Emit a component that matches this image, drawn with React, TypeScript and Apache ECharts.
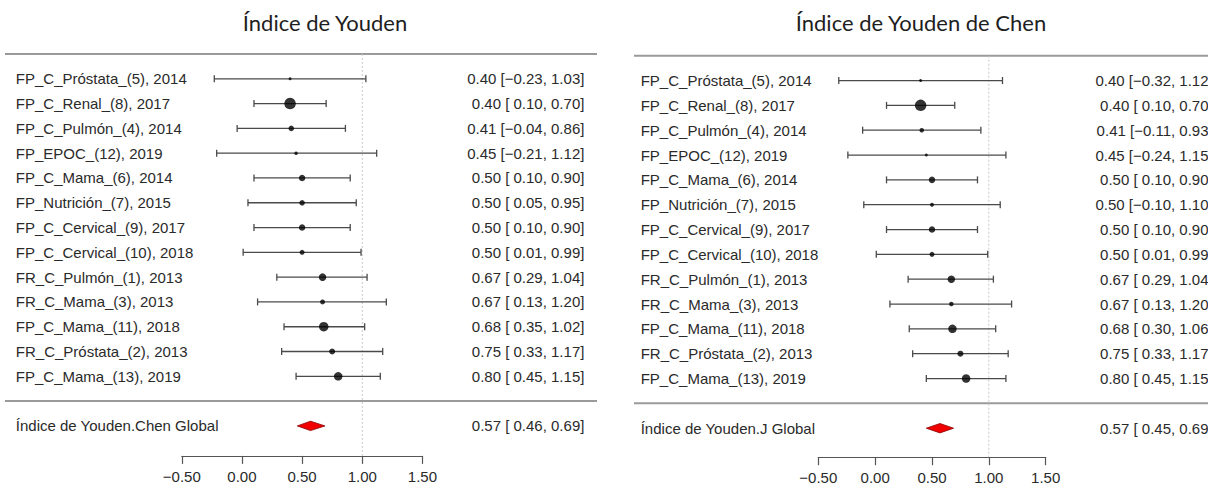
import React, { useEffect, useRef } from "react";
import * as echarts from "echarts";

// Study labels (same order in both panels, top to bottom)
const studies = [
  "FP_C_Próstata_(5), 2014",
  "FP_C_Renal_(8), 2017",
  "FP_C_Pulmón_(4), 2014",
  "FP_EPOC_(12), 2019",
  "FP_C_Mama_(6), 2014",
  "FP_Nutrición_(7), 2015",
  "FP_C_Cervical_(9), 2017",
  "FP_C_Cervical_(10), 2018",
  "FR_C_Pulmón_(1), 2013",
  "FR_C_Mama_(3), 2013",
  "FP_C_Mama_(11), 2018",
  "FR_C_Próstata_(2), 2013",
  "FP_C_Mama_(13), 2019",
];

// Índice de Youden
const youdenEst = [0.40, 0.40, 0.41, 0.45, 0.50, 0.50, 0.50, 0.50, 0.67, 0.67, 0.68, 0.75, 0.80];
const youdenLow = [-0.23, 0.10, -0.04, -0.21, 0.10, 0.05, 0.10, 0.01, 0.29, 0.13, 0.35, 0.33, 0.45];
const youdenHigh = [1.03, 0.70, 0.86, 1.12, 0.90, 0.95, 0.90, 0.99, 1.04, 1.20, 1.02, 1.17, 1.15];
const youdenWeight = [3, 11.5, 5.5, 3.5, 6.5, 5.5, 6.5, 5, 7.5, 5, 9.5, 6, 8.5];
const youdenPooled = [0.57, 0.46, 0.69];

// Índice de Youden de Chen
const chenEst = [0.40, 0.40, 0.41, 0.45, 0.50, 0.50, 0.50, 0.50, 0.67, 0.67, 0.68, 0.75, 0.80];
const chenLow = [-0.32, 0.10, -0.11, -0.24, 0.10, -0.10, 0.10, 0.01, 0.29, 0.13, 0.30, 0.33, 0.45];
const chenHigh = [1.12, 0.70, 0.93, 1.15, 0.90, 1.10, 0.90, 0.99, 1.04, 1.20, 1.06, 1.17, 1.15];
const chenWeight = [3, 11.5, 4.5, 3, 6.5, 4, 6.5, 5, 7.5, 4.5, 8.5, 6, 8.5];
const chenPooled = [0.57, 0.45, 0.69];

const xTicks = [-0.5, 0, 0.5, 1, 1.5];
const refValue = 1;

const LABEL_FONT = "'Liberation Sans', Arial, sans-serif";
const TITLE_FONT = "Lato, 'Open Sans', sans-serif";

const fmtSigned = (v: number) => (v < 0 ? `\u2212${Math.abs(v).toFixed(2)}` : ` ${v.toFixed(2)}`);
const ciText = (e: number, l: number, h: number) => `${e.toFixed(2)} [${fmtSigned(l)}, ${h.toFixed(2)}]`;

type Panel = {
  title: string;
  titleX: number;
  pooledLabel: string;
  est: number[];
  low: number[];
  high: number[];
  weight: number[];
  pooled: number[];
  grid: { left: number; top: number; width: number; height: number };
  axisOffset: number;
  labelMargin: number;
  ciMargin: number;
  ruleFrom: number;
  ruleTo: number;
};

const panels: Panel[] = [
  {
    title: "Índice de Youden",
    titleX: 325,
    pooledLabel: "Índice de Youden.Chen Global",
    est: youdenEst,
    low: youdenLow,
    high: youdenHigh,
    weight: youdenWeight,
    pooled: youdenPooled,
    grid: { left: 181.8, top: 54, width: 240.6, height: 371.9 },
    axisOffset: 30,
    labelMargin: 166,
    ciMargin: 162,
    ruleFrom: 5,
    ruleTo: 597,
  },
  {
    title: "Índice de Youden de Chen",
    titleX: 921,
    pooledLabel: "Índice de Youden.J Global",
    est: chenEst,
    low: chenLow,
    high: chenHigh,
    weight: chenWeight,
    pooled: chenPooled,
    grid: { left: 818.3, top: 55.7, width: 227.4, height: 372.5 },
    axisOffset: 29,
    labelMargin: 177.6,
    ciMargin: 167,
    ruleFrom: 634,
    ruleTo: 1220,
  },
];

function buildOption() {
  const grids: any[] = [];
  const xAxes: any[] = [];
  const yAxes: any[] = [];
  const series: any[] = [];
  const graphics: any[] = [];

  panels.forEach((p, gi) => {
    const n = p.est.length;
    const rowKeys = Array.from({ length: n + 3 }, (_, i) => `r${i}`);
    const leftTexts = ["", ...studies, "", p.pooledLabel];
    const rightTexts = [
      "",
      ...p.est.map((e, i) => ciText(e, p.low[i], p.high[i])),
      "",
      ciText(p.pooled[0], p.pooled[1], p.pooled[2]),
    ];
    const ruleRows = [0, n + 1];
    const pooledRow = n + 2;
    const gridBottomY = p.grid.top + p.grid.height;

    // fixed plot box; labels are allowed to run past the canvas edge
    grids.push({ ...p.grid, containLabel: false, outerBoundsMode: "none" });

    xAxes.push({
      gridIndex: gi,
      type: "value",
      min: xTicks[0],
      max: xTicks[xTicks.length - 1],
      interval: 0.5,
      position: "bottom",
      offset: p.axisOffset,
      axisLine: { show: true, lineStyle: { color: "#555", width: 1.2 } },
      axisTick: { show: true, length: 8, lineStyle: { color: "#555", width: 1.2 } },
      axisLabel: {
        margin: 13,
        fontSize: 15,
        color: "#2a2a2a",
        fontFamily: LABEL_FONT,
        formatter: (v: number) => fmtSigned(v).trim(),
      },
      splitLine: { show: false },
    });

    const yBase = {
      gridIndex: gi,
      type: "category",
      data: rowKeys,
      inverse: true,
      boundaryGap: false,
      axisLine: { show: false },
      axisTick: { show: false },
      splitLine: { show: false },
    };
    yAxes.push({
      ...yBase,
      position: "left",
      axisLabel: {
        interval: 0,
        align: "left",
        margin: p.labelMargin,
        fontSize: 15,
        color: "#2a2a2a",
        fontFamily: LABEL_FONT,
        formatter: (_v: string, idx: number) => leftTexts[idx],
      },
    });
    yAxes.push({
      ...yBase,
      position: "right",
      axisLabel: {
        interval: 0,
        align: "right",
        margin: p.ciMargin,
        fontSize: 15,
        color: "#2a2a2a",
        fontFamily: LABEL_FONT,
        formatter: (_v: string, idx: number) => rightTexts[idx],
      },
    });
    const yIdx = gi * 2;

    // horizontal rules above and below the study rows
    series.push({
      type: "custom",
      xAxisIndex: gi,
      yAxisIndex: yIdx,
      clip: false,
      silent: true,
      z: 1,
      encode: { y: 0 },
      data: ruleRows.map((r) => [r]),
      renderItem: (_params: any, api: any) => {
        const y = api.coord([0, api.value(0)])[1];
        return {
          type: "line",
          shape: { x1: p.ruleFrom, y1: y, x2: p.ruleTo, y2: y },
          style: { stroke: "#9a9a9a", lineWidth: 2 },
        };
      },
    });

    // dotted reference line at 1
    series.push({
      type: "custom",
      xAxisIndex: gi,
      yAxisIndex: yIdx,
      clip: false,
      silent: true,
      z: 1,
      encode: { x: 0 },
      data: [[refValue]],
      renderItem: (_params: any, api: any) => {
        const top = api.coord([api.value(0), 0]);
        return {
          type: "line",
          shape: { x1: top[0], y1: top[1], x2: top[0], y2: gridBottomY + p.axisOffset },
          style: { stroke: "#c8c8c8", lineWidth: 1, lineDash: [2, 2] },
        };
      },
    });

    // confidence intervals with end caps
    series.push({
      type: "custom",
      xAxisIndex: gi,
      yAxisIndex: yIdx,
      silent: true,
      z: 2,
      encode: { x: [0, 1], y: 2 },
      data: p.low.map((l, i) => [l, p.high[i], i + 1]),
      renderItem: (_params: any, api: any) => {
        const a = api.coord([api.value(0), api.value(2)]);
        const b = api.coord([api.value(1), api.value(2)]);
        const cap = 3.5;
        const style = { stroke: "#4a4a4a", lineWidth: 1.3 };
        return {
          type: "group",
          children: [
            { type: "line", shape: { x1: a[0], y1: a[1], x2: b[0], y2: b[1] }, style },
            { type: "line", shape: { x1: a[0], y1: a[1] - cap, x2: a[0], y2: a[1] + cap }, style },
            { type: "line", shape: { x1: b[0], y1: b[1] - cap, x2: b[0], y2: b[1] + cap }, style },
          ],
        };
      },
    });

    // point estimates, sized by study weight
    series.push({
      type: "scatter",
      xAxisIndex: gi,
      yAxisIndex: yIdx,
      silent: true,
      z: 3,
      symbol: "circle",
      symbolSize: (v: number[]) => v[2],
      itemStyle: { color: "#000" },
      data: p.est.map((e, i) => [e, i + 1, p.weight[i]]),
    });

    // pooled estimate diamond
    series.push({
      type: "custom",
      xAxisIndex: gi,
      yAxisIndex: yIdx,
      silent: true,
      z: 3,
      encode: { x: [0, 1, 2], y: 3 },
      data: [[p.pooled[1], p.pooled[0], p.pooled[2], pooledRow]],
      renderItem: (_params: any, api: any) => {
        const row = api.value(3);
        const lo = api.coord([api.value(0), row]);
        const mid = api.coord([api.value(1), row]);
        const hi = api.coord([api.value(2), row]);
        const h = 4.7;
        return {
          type: "polygon",
          shape: {
            points: [
              [lo[0], lo[1]],
              [mid[0], mid[1] - h],
              [hi[0], hi[1]],
              [mid[0], mid[1] + h],
            ],
          },
          style: { fill: "#f00000", stroke: "#8a0000", lineWidth: 0.8 },
        };
      },
    });

    graphics.push({
      type: "text",
      x: p.titleX,
      y: 22,
      style: {
        text: p.title,
        fill: "#1e1e1e",
        font: `22px ${TITLE_FONT}`,
        textAlign: "center",
        textVerticalAlign: "middle",
      },
    });
  });

  return {
    animation: false,
    backgroundColor: "#ffffff",
    grid: grids,
    xAxis: xAxes,
    yAxis: yAxes,
    series,
    graphic: graphics,
  };
}

export default function App() {
  const ref = useRef<HTMLDivElement>(null);

  useEffect(() => {
    if (!ref.current) return;
    const chart = echarts.init(ref.current, undefined, { renderer: "svg" });
    chart.setOption(buildOption() as any);
    return () => chart.dispose();
  }, []);

  return (
    <div
      ref={ref}
      style={{ position: "absolute", left: 0, top: 0, width: 1208, height: 492, background: "#fff" }}
    />
  );
}
